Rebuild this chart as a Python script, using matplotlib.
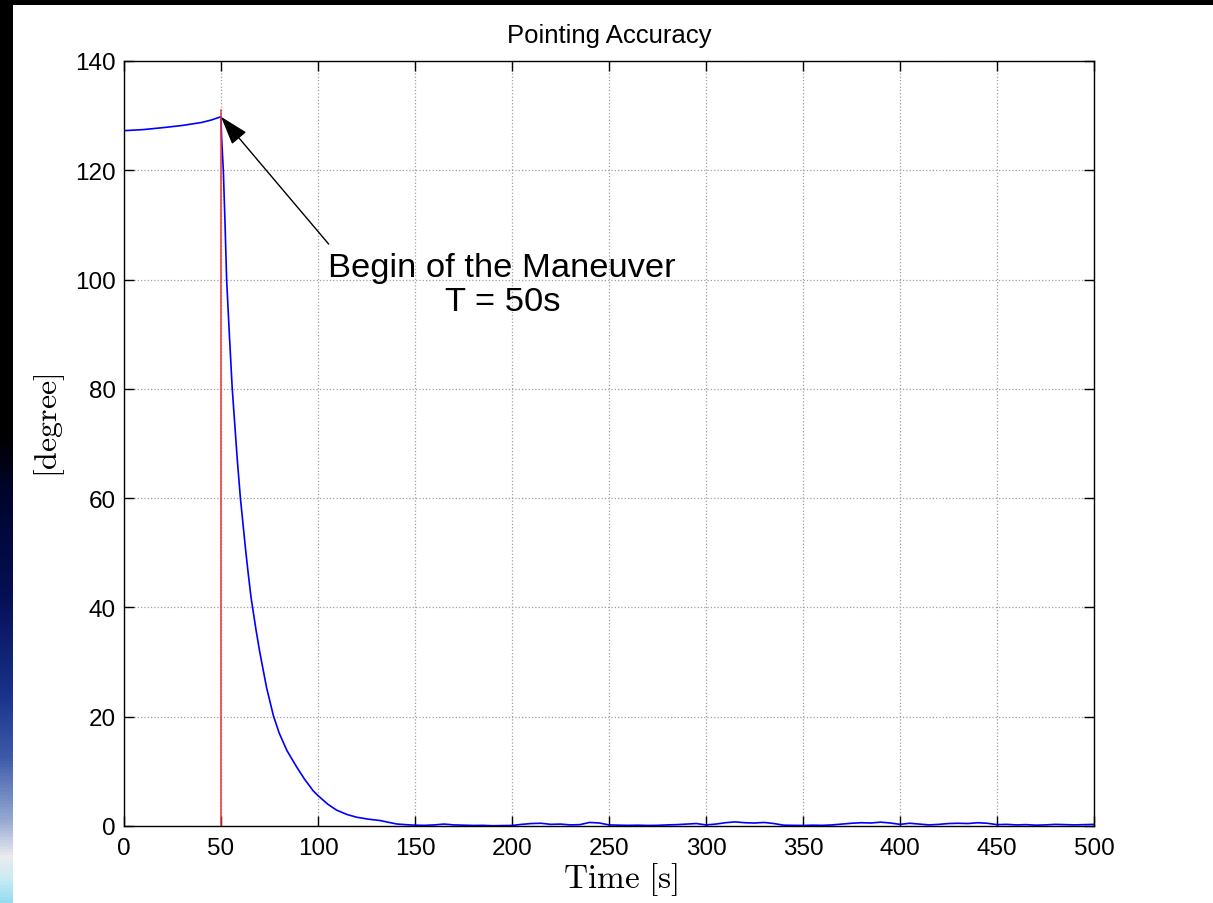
import numpy as np
import matplotlib
matplotlib.use('Agg')
import matplotlib.pyplot as plt
from matplotlib.patches import Rectangle

# pointing error [deg] vs time [s]
time_s = [0, 10, 20, 30, 40, 45, 50,
          50.3, 51.2, 52.1, 52.9, 54.3, 55.8, 57.0, 58.4, 60.0, 62.7,
          64.0, 65.5, 68.0, 70.0, 73.5, 77.0, 80.0, 84.0, 89.0, 93.0,
          97.6, 100.2, 105.0, 109.6, 115.0, 120.0, 126.0, 132.0, 136.0, 140.5,
          145, 150, 155, 160, 165, 170, 175, 180, 185, 190, 195, 200,
          205, 210, 215, 220, 225, 230, 235, 240, 245, 250, 255, 260,
          265, 270, 275, 280, 285, 290, 295, 300, 305, 310, 315, 320,
          325, 330, 335, 340, 345, 350, 355, 360, 365, 370, 375, 380,
          385, 390, 395, 400, 405, 410, 415, 420, 425, 430, 435, 440,
          445, 450, 455, 460, 465, 470, 475, 480, 485, 490, 495, 500]
error_deg = [127.25, 127.45, 127.8, 128.2, 128.75, 129.2, 129.8,
             126.0, 120.0, 110.0, 100.0, 90.0, 80.0, 74.0, 67.0, 60.0, 50.5,
             46.3, 41.8, 36.0, 31.8, 25.3, 20.2, 17.0, 13.8, 10.8, 8.6,
             6.4, 5.5, 4.0, 2.9, 2.1, 1.6, 1.25, 1.0, 0.7, 0.37,
             0.25, 0.15, 0.12, 0.2, 0.35, 0.2, 0.15, 0.1, 0.12, 0.05, 0.08, 0.1,
             0.3, 0.45, 0.5, 0.3, 0.35, 0.2, 0.25, 0.65, 0.55, 0.2, 0.15, 0.12,
             0.15, 0.1, 0.12, 0.2, 0.25, 0.35, 0.45, 0.2, 0.35, 0.6, 0.75, 0.6,
             0.55, 0.65, 0.45, 0.15, 0.12, 0.1, 0.15, 0.12, 0.2, 0.35, 0.5, 0.6,
             0.55, 0.7, 0.55, 0.3, 0.5, 0.35, 0.2, 0.3, 0.45, 0.5, 0.45, 0.6,
             0.5, 0.25, 0.3, 0.2, 0.25, 0.15, 0.2, 0.3, 0.25, 0.2, 0.25, 0.3]

maneuver_t = 50
marker_top = 131

x_ticks = list(range(0, 501, 50))
y_ticks = list(range(0, 141, 20))

plt.rcParams['font.family'] = ['Liberation Sans', 'DejaVu Sans']
plt.rcParams['mathtext.fontset'] = 'cm'

fig = plt.figure(figsize=(12.13, 9.04), dpi=100, facecolor='white')

# black frame strip along the top
fig.patches.append(Rectangle((0, (904 - 6) / 904), 1, 6 / 904,
                             transform=fig.transFigure, facecolor='black',
                             edgecolor='none'))

# blue gradient on the left strip
strip = fig.add_axes([0, 0, 13 / 1213, 1])
stops = [0.0, 0.48, 0.55, 0.66, 0.77, 0.84, 0.91, 0.95, 0.975, 1.0]
cols = np.array([[0, 0, 0], [0, 0, 0], [0, 5, 45], [5, 15, 85], [25, 50, 140],
                 [60, 90, 170], [150, 170, 210], [235, 235, 240],
                 [200, 235, 245], [150, 220, 240]]) / 255.0
yy = np.linspace(0, 1, 300)
grad = np.stack([np.interp(yy, stops, cols[:, k]) for k in range(3)], axis=1)
strip.imshow(grad[:, None, :], aspect='auto', extent=[0, 1, 1, 0])
strip.set_axis_off()

ax = fig.add_axes([124 / 1213, 77 / 904, 970 / 1213, 765 / 904])
ax.plot(time_s, error_deg, color='blue', lw=1.2)
ax.plot([maneuver_t, maneuver_t], [0, marker_top], color='#e8333a', lw=1.1)

ax.set_xlim(0, 500)
ax.set_ylim(0, 140)
ax.set_xticks(x_ticks)
ax.set_yticks(y_ticks)
ax.grid(True, linestyle=':', color='#a0a0a0', lw=0.9)
ax.tick_params(direction='in', length=7, width=1, top=True, right=True,
               labelsize=17.5)
ax.tick_params(axis='x', pad=8)
ax.tick_params(axis='y', pad=6)
for s in ax.spines.values():
    s.set_linewidth(1.0)

ax.set_title('Pointing Accuracy', fontsize=18.5, y=1.014)
ax.set_xlabel(r'$\mathrm{Time\ [s]}$', fontsize=24)
ax.xaxis.set_label_coords(0.512, -0.069)
ax.xaxis.label.set_va('center')
ax.set_ylabel(r'$\mathrm{[degree]}$', fontsize=23)
ax.yaxis.set_label_coords(-0.077, 0.525)
ax.yaxis.label.set_va('center')

ax.annotate('', xy=(maneuver_t, 129.8), xytext=(105.5, 106.5),
            arrowprops=dict(arrowstyle='-|>,head_length=0.4,head_width=0.13',
                            mutation_scale=45, color='black', lw=1,
                            shrinkA=0, shrinkB=0))
ax.text(195, 99.1, 'Begin of the Maneuver\nT = 50s', fontsize=24.8,
        ha='center', va='center', linespacing=1.1)

plt.savefig('out.png', dpi=100, facecolor=fig.get_facecolor())
